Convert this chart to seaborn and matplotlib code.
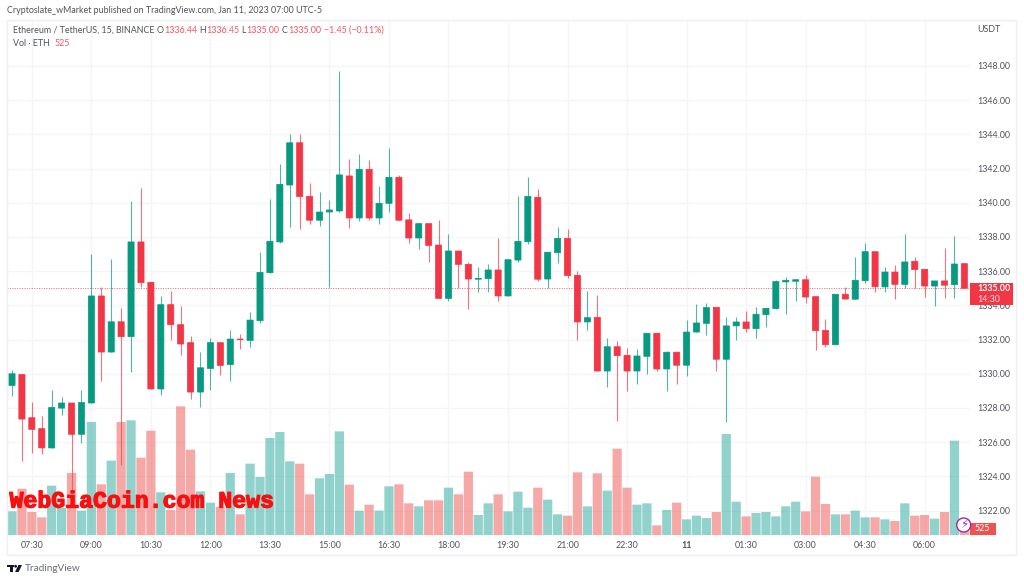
#!/usr/bin/env python3
import numpy as np
import pandas as pd
import seaborn as sns
import matplotlib.pyplot as plt
import matplotlib.patheffects as pe
from matplotlib.patches import Rectangle, Circle, Polygon

opens = [1329.32, 1329.96, 1327.43, 1326.79, 1325.66, 1327.99, 1328.29, 1326.46, 1328.29, 1334.55,
         1331.27, 1333.04, 1332.17, 1337.71, 1335.35, 1329.11, 1334.04, 1332.87, 1331.82, 1328.93,
         1330.31, 1331.82, 1330.53, 1332.03, 1331.95, 1333.10, 1335.91, 1337.71, 1341.04, 1343.51,
         1340.38, 1338.98, 1339.46, 1339.52, 1341.57, 1339.11, 1341.96, 1339.11, 1339.97, 1341.49,
         1339.00, 1337.94, 1338.78, 1337.53, 1334.41, 1337.18, 1336.40, 1335.53, 1335.56, 1336.07,
         1334.55, 1336.65, 1337.72, 1340.32, 1335.54, 1337.08, 1337.92, 1335.76, 1333.03, 1333.30,
         1330.16, 1331.58, 1331.08, 1330.16, 1331.02, 1332.37, 1330.28, 1331.26, 1330.50, 1332.44,
         1332.95, 1333.89, 1330.85, 1332.80, 1333.03, 1332.64, 1333.46, 1333.81, 1335.37, 1335.41,
         1335.50, 1334.51, 1332.54, 1331.70, 1334.65, 1334.36, 1335.44, 1337.14, 1335.08, 1335.95,
         1335.23, 1336.58, 1336.11, 1335.13, 1335.43, 1335.21, 1336.44]
closes = [1330.00, 1327.35, 1326.75, 1325.66, 1328.03, 1328.29, 1326.46, 1328.32, 1334.55, 1331.27,
          1333.04, 1332.17, 1337.71, 1335.33, 1329.11, 1334.04, 1332.87, 1331.74, 1328.93, 1330.35,
          1331.82, 1330.49, 1332.03, 1332.00, 1333.14, 1335.93, 1337.75, 1341.08, 1343.51, 1340.36,
          1338.98, 1339.46, 1339.58, 1341.63, 1339.11, 1341.96, 1339.11, 1339.97, 1341.49, 1338.98,
          1337.94, 1338.78, 1337.51, 1334.41, 1337.18, 1336.40, 1335.54, 1335.58, 1336.07, 1334.55,
          1336.67, 1337.75, 1340.38, 1335.53, 1337.11, 1337.92, 1335.74, 1333.03, 1333.28, 1330.16,
          1331.58, 1331.06, 1330.16, 1331.04, 1332.37, 1330.28, 1331.26, 1330.50, 1332.44, 1332.97,
          1333.87, 1330.85, 1332.80, 1333.03, 1332.64, 1333.48, 1333.83, 1335.39, 1335.47, 1335.50,
          1334.49, 1332.52, 1331.70, 1334.65, 1334.37, 1335.47, 1337.14, 1335.09, 1335.95, 1335.23,
          1336.54, 1336.09, 1335.13, 1335.43, 1335.18, 1336.42, 1335.00]
highs = [1330.22, 1330.00, 1328.37, 1327.55, 1329.07, 1328.64, 1328.29, 1329.07, 1337.00, 1335.05,
         1336.71, 1333.86, 1340.12, 1340.88, 1335.35, 1334.55, 1334.82, 1333.96, 1332.21, 1331.27,
         1332.11, 1331.82, 1332.58, 1332.34, 1333.61, 1337.14, 1340.22, 1342.29, 1344.02, 1344.02,
         1341.16, 1340.61, 1340.16, 1347.71, 1342.56, 1342.83, 1342.48, 1340.96, 1343.20, 1341.60,
         1339.42, 1338.82, 1338.78, 1338.99, 1338.16, 1337.18, 1336.52, 1336.23, 1336.42, 1337.92,
         1336.70, 1340.38, 1341.49, 1340.81, 1337.11, 1338.57, 1338.45, 1336.03, 1334.82, 1334.59,
         1332.08, 1331.94, 1331.49, 1331.47, 1332.37, 1332.37, 1331.33, 1331.33, 1333.15, 1334.10,
         1334.12, 1333.89, 1333.30, 1333.30, 1333.67, 1333.89, 1333.83, 1335.47, 1335.68, 1335.53,
         1335.78, 1334.51, 1333.20, 1334.65, 1335.06, 1336.85, 1337.67, 1337.14, 1336.23, 1336.36,
         1338.18, 1336.85, 1336.11, 1335.43, 1337.36, 1338.06, 1336.45]
lows = [1328.70, 1324.90, 1325.36, 1325.33, 1325.66, 1327.60, 1323.10, 1325.93, 1328.29, 1329.56,
        1331.27, 1324.64, 1330.10, 1335.07, 1329.11, 1328.78, 1331.99, 1331.11, 1328.54, 1328.07,
        1329.07, 1329.91, 1329.56, 1331.47, 1331.58, 1332.97, 1335.91, 1337.66, 1338.58, 1338.49,
        1338.74, 1338.66, 1335.09, 1339.44, 1338.50, 1338.96, 1339.01, 1338.76, 1339.48, 1338.98,
        1337.67, 1337.32, 1336.52, 1334.41, 1334.27, 1335.00, 1333.81, 1334.80, 1334.80, 1334.27,
        1334.55, 1336.52, 1337.61, 1335.44, 1335.00, 1336.48, 1335.58, 1331.98, 1332.56, 1330.16,
        1329.21, 1327.26, 1328.99, 1329.42, 1329.99, 1330.16, 1328.99, 1329.40, 1329.89, 1332.44,
        1332.27, 1330.18, 1327.20, 1331.99, 1332.46, 1332.09, 1332.72, 1333.81, 1333.50, 1334.27,
        1334.16, 1331.39, 1331.58, 1331.70, 1334.37, 1334.36, 1335.29, 1334.80, 1334.80, 1334.37,
        1335.02, 1335.00, 1334.51, 1333.96, 1334.45, 1334.45, 1335.00]
volumes = [1864, 3649, 1811, 1391, 3885, 2126, 4883, 1916, 8899, 3990,
           5854, 8899, 9030, 6090, 8216, 3360, 1969, 10133, 6720, 3439,
           2546, 2231, 4883, 1628, 5618, 4568, 7639, 8111, 5801, 5618,
           3203, 4463, 4804, 8164, 3964, 1916, 2389, 1916, 3833, 3990,
           2494, 2258, 2730, 2730, 3728, 3203, 4988, 1575, 2494, 3203,
           1864, 3413, 2153, 3728, 2783, 1628, 1523, 4935, 2258, 4856,
           3491, 6799, 3728, 2389, 2494, 761, 1969, 2546, 1234, 1523,
           1339, 1811, 7954, 2625, 1470, 1733, 1811, 1470, 2258, 2625,
           1864, 4594, 2441, 1628, 1628, 1916, 1391, 1391, 1234, 1103,
           2494, 1523, 1575, 1286, 1811, 7429, 525]

price_ticks = [1322, 1324, 1326, 1328, 1330, 1332, 1334, 1336, 1338, 1340, 1342, 1344, 1346, 1348]
time_ticks = [2, 8, 14, 20, 26, 32, 38, 44, 50, 56, 62, 68, 74, 80, 86, 92]
time_labels = ["07:30", "09:00", "10:30", "12:00", "13:30", "15:00", "16:30", "18:00",
               "19:30", "21:00", "22:30", "11", "01:30", "03:00", "04:30", "06:00"]
last_price = 1335.00

UP = "#089981"
DOWN = "#F23645"
GREY = "#50535E"
GRID = "#F4F5F8"
TEXT_SIZE = 6.4
W, H = 1024, 581

df = pd.DataFrame({"bar": np.arange(len(opens)), "open": opens, "high": highs,
                   "low": lows, "close": closes, "volume": volumes})
df["dir"] = np.where(df["close"] >= df["open"], "up", "down")
df["color"] = df["dir"].map({"up": UP, "down": DOWN})

sns.set_theme(style="white")
plt.rcParams["font.family"] = ["Lato", "DejaVu Sans"]

fig = plt.figure(figsize=(W / 100, H / 100), dpi=100, facecolor="white")
# pane runs from x=7 to x=970 and y=20 to y=535 in picture pixels
ax = fig.add_axes([7 / W, 1 - 535 / H, 963 / W, 515 / H])
ax.set_xlim(-0.504, 96.57)
ax.set_ylim(1320.57, 1350.69)
sns.despine(ax=ax, left=True, right=True, top=True, bottom=True)

# wicks and bodies
ax.vlines(df["bar"], df["low"], df["high"], colors=df["color"], linewidth=0.8, alpha=0.7, zorder=2)
bodies = ax.bar(df["bar"], (df["close"] - df["open"]).abs(), bottom=df[["open", "close"]].min(axis=1),
                width=0.62, color=df["color"], edgecolor=df["color"], linewidth=0.5, zorder=3)
for b in bodies:
    b.set_snap(False)
ax.axhline(last_price, color=DOWN, linewidth=0.7, linestyle=(0, (1, 1.5)), alpha=0.8, zorder=1)

# volume pane sits on the same axes area, along the bottom
vol_ax = ax.twinx()
vol_ax.patch.set_visible(False)
sns.barplot(data=df, x="bar", y="volume", hue="dir", native_scale=True, dodge=False, legend=False,
            palette={"up": "#26A69A", "down": "#EF5350"}, hue_order=["up", "down"],
            width=0.93, saturation=1, alpha=0.5, linewidth=0, ax=vol_ax)
for p in vol_ax.patches:
    p.set_snap(False)
vol_ax.set_xlim(ax.get_xlim())
vol_ax.set_ylim(0, 40556)
vol_ax.set_yticks([])
vol_ax.set_xlabel("")
vol_ax.set_ylabel("")
vol_ax.grid(False)
sns.despine(ax=vol_ax, left=True, right=True, top=True, bottom=True)

# twinx moves the price ticks to the left, so they are set after it
ax.yaxis.tick_right()
ax.set_yticks(price_ticks)
ax.set_yticklabels([f"{p:.2f}" for p in price_ticks], fontsize=TEXT_SIZE, color=GREY)
ax.set_xticks(time_ticks)
ax.set_xticklabels(time_labels, fontsize=TEXT_SIZE, color=GREY)
ax.tick_params(axis="both", length=0)
ax.tick_params(axis="y", pad=5.2)
ax.tick_params(axis="x", pad=4.2)
ax.get_xticklabels()[time_labels.index("11")].set_fontweight("bold")
ax.grid(True, color=GRID, linewidth=0.9)
ax.set_axisbelow(True)
vol_ax.tick_params(axis="x", length=0, labelbottom=False)

# overlay in picture pixels for the TradingView furniture
ov = fig.add_axes([0, 0, 1, 1], zorder=10)
ov.set_xlim(0, W)
ov.set_ylim(H, 0)
ov.axis("off")
ov.add_patch(Rectangle((7, 19.5), 1009, 535.5, fill=False, edgecolor="#EDEFF3", linewidth=1))


def label(x, y, s, color=GREY, size=TEXT_SIZE, **kw):
    kw.setdefault("va", "center")
    return ov.text(x, y, s, color=color, fontsize=size, **kw)


label(7, 10.5, "Cryptoslate_wMarket published on TradingView.com, Jan 11, 2023 07:00 UTC-5")
label(13, 30.5, "Ethereum / TetherUS, 15, BINANCE")
for x, s in [(157, "O"), (199, "H"), (241, "L"), (282, "C")]:
    label(x, 30.5, s)
for x, s in [(164, "1336.44"), (206, "1336.45"), (246, "1335.00"), (288.5, "1335.00"),
             (324, "−1.45 (−0.11%)")]:
    label(x, 30.5, s, color="#F7525F")
label(13, 43, "Vol · ETH")
label(55, 43, "525", color="#F7525F")
label(977, 29.5, "USDT")

# last price tag
ov.add_patch(Rectangle((969.5, 282.5), 43, 22.5, facecolor="#F23645", edgecolor="none"))
label(977.5, 288.5, f"{last_price:.2f}", color="white", fontweight="bold")
label(977.5, 299, "14:30", color="#FFE0E3")

# volume tag and lightning badge
ov.add_patch(Rectangle((969.5, 522.5), 26, 12, facecolor="#EF5350", edgecolor="none"))
label(982.5, 528.5, "525", color="white", ha="center")
ov.add_patch(Circle((963.7, 525), 7, facecolor="white", edgecolor="#9C27B0", linewidth=1))
ov.text(963.7, 525, "⚡", color="#9C27B0", fontsize=8.5, ha="center", va="center", family="DejaVu Sans")

# watermark
mark = label(9.5, 501, "WebGiaCoin.com News", color="#F80F0F", size=16.7,
             family="Liberation Mono", fontweight="bold")
mark.set_path_effects([pe.withStroke(linewidth=0.9, foreground="#F80F0F")])

# footer logo
ov.add_patch(Rectangle((7.3, 565), 6.7, 2.4, facecolor="#131722", edgecolor="none"))
ov.add_patch(Rectangle((10.2, 565), 2.6, 7, facecolor="#131722", edgecolor="none"))
ov.add_patch(Circle((15.6, 566.3), 1.4, facecolor="#131722", edgecolor="none"))
ov.add_patch(Polygon([(18.5, 565), (22, 565), (18.6, 572), (15, 572)], facecolor="#131722", edgecolor="none"))
label(24.5, 568.5, "TradingView", color="#6A6D78", size=7.2)

fig.savefig("out.png", dpi=100)
